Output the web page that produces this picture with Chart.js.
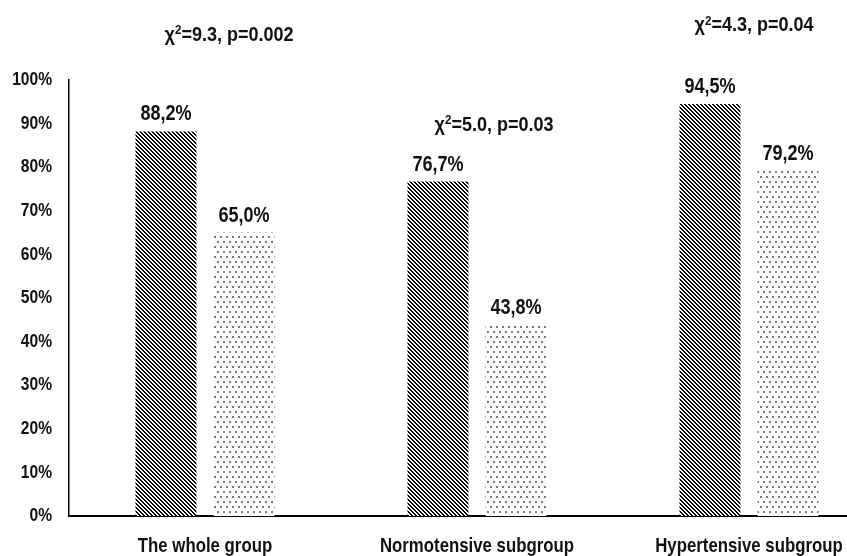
<!DOCTYPE html>
<html>
<head>
<meta charset="utf-8">
<script src="https://cdn.jsdelivr.net/npm/chart.js@4/dist/chart.umd.min.js"></script>
<style>
  html, body { margin: 0; padding: 0; background: #fff; overflow: hidden; }
  #wrap { position: absolute; left: 0; top: 0; width: 890px; height: 556px; }
</style>
</head>
<body>
<div id="wrap"><canvas id="chart" width="890" height="556"></canvas></div>
<script>
// Groups and the share of patients in each, for the two compared series
const categories = ['The whole group', 'Normotensive subgroup', 'Hypertensive subgroup'];
const hatchedValues = [88.2, 76.7, 94.5];
const dottedValues = [65.0, 43.8, 79.2];
const chiStats = ['9.3', '5.0', '4.3'];
const pValues = ['0.002', '0.03', '0.04'];
const yMin = 0;
const yMax = 100;
const yStep = 10;

const FONT = "'Liberation Sans', Arial, sans-serif";
const INK = '#111';

// Condensed text: the face is squeezed horizontally around its anchor
function narrowText(ctx, txt, x, y, font, squeeze, align, baseline) {
  ctx.save();
  ctx.font = font;
  ctx.textAlign = align || 'center';
  ctx.textBaseline = baseline || 'alphabetic';
  ctx.translate(x, y);
  ctx.scale(squeeze, 1);
  ctx.fillText(txt, 0, 0);
  ctx.restore();
}

// Fill patterns: diagonal hatching and a staggered dot screen
function makeTile(w, h, painter) {
  const c = document.createElement('canvas');
  c.width = w; c.height = h;
  painter(c.getContext('2d'), w, h);
  return c;
}
const probe = document.createElement('canvas').getContext('2d');
const hatchTile = makeTile(4, 4, (ctx, w, h) => {
  const img = ctx.createImageData(w, h);
  for (let y = 0; y < h; y++) {
    for (let x = 0; x < w; x++) {
      const k = (((x - y) % 4) + 4) % 4;
      const i = (y * w + x) * 4;
      const v = k < 2 ? 0 : 255;
      img.data[i] = v; img.data[i + 1] = v; img.data[i + 2] = v; img.data[i + 3] = 255;
    }
  }
  ctx.putImageData(img, 0, 0);
});
const dotTile = makeTile(6, 10, (ctx) => {
  ctx.fillStyle = '#fff';
  ctx.fillRect(0, 0, 6, 10);
  ctx.fillStyle = '#777';
  ctx.fillRect(1, 1, 2, 2);
  ctx.fillRect(4, 6, 2, 2);
});
const hatchPattern = probe.createPattern(hatchTile, 'repeat');
const dotPattern = probe.createPattern(dotTile, 'repeat');

const percentLabel = v => v + '%';

// Axis labels drawn in the condensed face, positioned from the scales' own ticks
const axisLabels = {
  id: 'axisLabels',
  afterDraw(chart) {
    const ctx = chart.ctx;
    const xs = chart.scales.x, ys = chart.scales.y;
    ctx.fillStyle = INK;
    ys.ticks.forEach(t => {
      narrowText(ctx, percentLabel(t.value), xs.left - 17, ys.getPixelForValue(t.value),
        'bold 19px ' + FONT, 0.82, 'right', 'middle');
    });
    chart.data.labels.forEach((lab, i) => {
      narrowText(ctx, lab, xs.getPixelForValue(i), ys.bottom + 36,
        'bold 21px ' + FONT, 0.8, 'center', 'alphabetic');
    });
  }
};

// Value labels above bars, written with a decimal comma
const valueLabels = {
  id: 'valueLabels',
  afterDatasetsDraw(chart) {
    const ctx = chart.ctx;
    ctx.fillStyle = INK;
    chart.data.datasets.forEach((ds, di) => {
      chart.getDatasetMeta(di).data.forEach((bar, i) => {
        const txt = ds.data[i].toFixed(1).replace('.', ',') + '%';
        narrowText(ctx, txt, bar.x, bar.y - 11, 'bold 22px ' + FONT, 0.82, 'center', 'alphabetic');
      });
    });
  }
};

// Chi-square test results placed over each group
const chiNotes = {
  id: 'chiNotes',
  afterDraw(chart, args, opts) {
    const ctx = chart.ctx;
    const xs = chart.scales.x, ys = chart.scales.y;
    const big = 'bold ' + opts.size + 'px ' + FONT;
    const small = 'bold ' + Math.round(opts.size * 0.66) + 'px ' + FONT;
    ctx.save();
    ctx.fillStyle = INK;
    chiStats.forEach((stat, i) => {
      const head = '\u03C7';
      const sup = '2';
      const tail = '=' + stat + ', p=' + pValues[i];
      ctx.font = big;
      const wHead = ctx.measureText(head).width;
      const wTail = ctx.measureText(tail).width;
      ctx.font = small;
      const wSup = ctx.measureText(sup).width;
      const total = (wHead + wSup + wTail) * opts.squeeze;
      const cx = xs.getPixelForValue(i) + opts.dx[i];
      const base = ys.getPixelForValue(opts.level[i]) + opts.size * 0.36;
      let x = cx - total / 2;
      narrowText(ctx, head, x, base, big, opts.squeeze, 'left', 'alphabetic');
      x += wHead * opts.squeeze;
      narrowText(ctx, sup, x, base - opts.size * 0.34, small, opts.squeeze, 'left', 'alphabetic');
      x += wSup * opts.squeeze;
      narrowText(ctx, tail, x, base, big, opts.squeeze, 'left', 'alphabetic');
    });
    ctx.restore();
  }
};

new Chart(document.getElementById('chart'), {
  type: 'bar',
  data: {
    labels: categories,
    datasets: [
      { data: hatchedValues, backgroundColor: hatchPattern, borderWidth: 0 },
      { data: dottedValues, backgroundColor: dotPattern, borderWidth: 0 }
    ]
  },
  options: {
    responsive: false,
    animation: false,
    devicePixelRatio: 1,
    categoryPercentage: 0.574,
    barPercentage: 0.78,
    layout: { padding: { top: 80, right: 5, left: 0, bottom: 0 } },
    plugins: {
      legend: { display: false },
      tooltip: { enabled: false },
      chiNotes: {
        size: 20,
        squeeze: 0.9,
        dx: [24, 17, 5],
        level: [110.6, 89.9, 112.8]
      }
    },
    scales: {
      x: {
        grid: { display: false, drawTicks: false },
        border: { display: true, color: '#000', width: 2 },
        ticks: { display: false },
        afterFit(s) { s.height = 40; }
      },
      y: {
        min: yMin,
        max: yMax,
        grid: { display: false, drawTicks: false },
        border: { display: true, color: '#000', width: 1.5 },
        ticks: { display: false, stepSize: yStep, callback: percentLabel },
        afterFit(s) { s.width = 69; }
      }
    }
  },
  plugins: [valueLabels, chiNotes, axisLabels]
});
</script>
</body>
</html>
